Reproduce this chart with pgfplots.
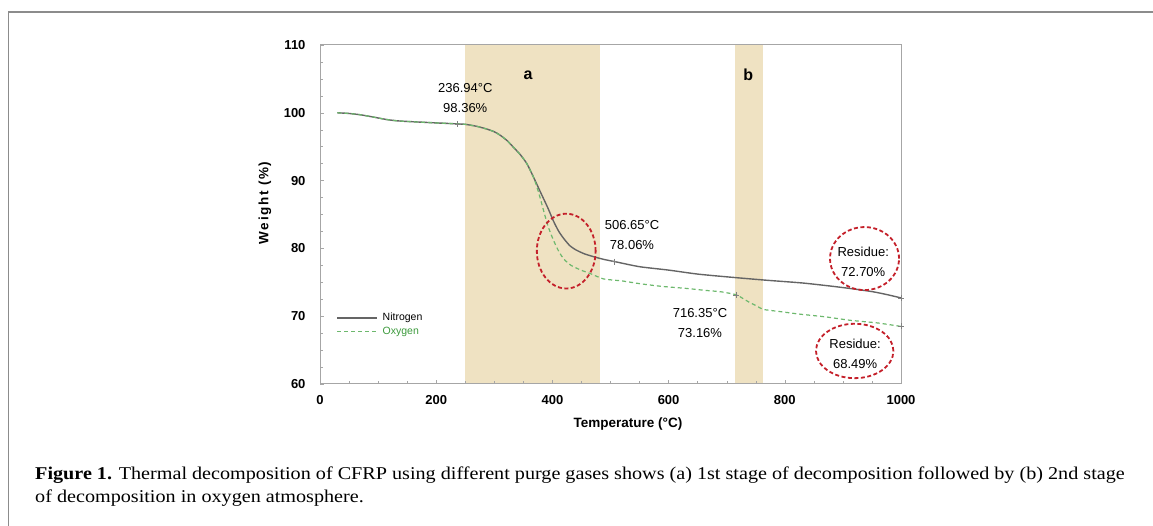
\documentclass[border=0pt]{standalone}
\usepackage{pgfplots}
\pgfplotsset{compat=1.18}
\usepackage{fontspec}
\setmainfont{Liberation Sans}
\newfontfamily\capfont[FakeStretch=1.12]{Liberation Serif}

\definecolor{band}{HTML}{EFE2C2}
\definecolor{nitro}{HTML}{656565}
\definecolor{oxy}{HTML}{6DB86D}
\definecolor{oxytext}{HTML}{3C9A3C}
\definecolor{circ}{HTML}{C4202A}
\definecolor{axgray}{HTML}{A6A6A6}
\definecolor{frame}{HTML}{8C8C8C}

\begin{document}
\begin{tikzpicture}
\useasboundingbox (0pt,0pt) rectangle (1153pt,526pt);
% outer frame of the figure
\draw[frame, line width=1.5pt] (8.5pt,0pt) -- (8.5pt,514pt) -- (1153pt,514pt);

\begin{axis}[
    at={(320pt,142pt)}, anchor=south west,
    scale only axis,
    width=581pt, height=339pt,
    xmin=0, xmax=1000, ymin=60, ymax=110,
    xtick={0,200,...,1000}, ytick={60,70,...,110},
    minor x tick num=3, minor y tick num=3,
    tick pos=left, tick align=inside,
    major tick length=4pt, minor tick length=3pt,
    every tick/.style={axgray},
    axis line style={axgray, line width=1pt},
    axis on top,
    clip=false,
    /pgf/number format/assume math mode=true,
    /pgf/number format/1000 sep={},
    ticklabel style={font=\bfseries\fontsize{13}{15}\selectfont},
    yticklabel style={xshift=-11pt},
    xticklabel style={yshift=-8pt},
    xlabel={Temperature (°C)},
    ylabel={\addfontfeature{LetterSpace=12}Weight (\%)},
    label style={font=\bfseries\fontsize{13.5}{15}\selectfont},
    xlabel style={at={(axis description cs:0.530,-0.1195)}, anchor=center},
    ylabel style={at={(axis description cs:-0.0947,0.534)}, anchor=center, rotate=0},
    legend cell align=left,
    legend image code/.code={\draw[#1] (0pt,0pt) -- (40pt,0pt);},
    legend style={draw=none, fill=none, font=\fontsize{10.5}{12}\selectfont,
        at={(axis description cs:0.026,0.218)}, anchor=north west,
        row sep=1pt, inner sep=1pt,
        nodes={inner xsep=5pt}},
]
% decomposition stages
\addplot[fill=band, draw=none, forget plot] coordinates {(250,60) (250,110) (482,110) (482,60)} -- cycle;
\addplot[fill=band, draw=none, forget plot] coordinates {(715,60) (715,110) (762,110) (762,60)} -- cycle;

\addplot[nitro, line width=1.4pt, smooth, tension=0.4] coordinates {
    (30,100.0) (50,99.9) (70,99.7) (90,99.4) (115,99.0) (135,98.8) (155,98.7)
    (190,98.55) (236.94,98.36) (250,98.3) (270,98.0) (287,97.6) (300,97.2)
    (310,96.7) (322,95.9) (332,95.0) (345,93.8) (356,92.5) (367,90.6)
    (380,88.2) (392,86.0) (402,84.0) (411,82.5) (420,81.4) (430,80.4)
    (440,79.8) (455,79.2) (474,78.7) (490,78.35) (506.65,78.06) (550,77.3)
    (600,76.8) (651,76.2) (714,75.7) (769,75.3) (830,74.9) (883,74.4)
    (920,74.0) (952,73.6) (975,73.2) (1000,72.70)
};
\addplot[oxy, line width=1.2pt, dash pattern=on 4pt off 3pt, smooth, tension=0.4] coordinates {
    (30,100.0) (50,99.9) (70,99.7) (90,99.4) (115,99.0) (135,98.8) (155,98.7)
    (190,98.55) (236.94,98.36) (250,98.3) (270,98.0) (287,97.6) (300,97.2)
    (310,96.7) (322,95.9) (332,95.0) (345,93.8) (356,92.5) (367,90.6)
    (375,88.6) (381,86.8) (386,85.2) (392,83.4) (398,82.0) (405,80.6)
    (412,79.4) (420,78.4) (432,77.5) (449,76.8) (465,76.3) (488,75.5)
    (520,75.2) (550,74.8) (588,74.4) (630,74.1) (664,73.8) (690,73.6)
    (716.35,73.16) (728,72.6) (740,72.0) (752,71.5) (763,71.0) (790,70.7)
    (826,70.3) (870,69.9) (912,69.4) (960,69.0) (1000,68.49)
};
\legend{Nitrogen,\textcolor{oxytext}{Oxygen}}

% onset / residue markers
\addplot[only marks, mark=+, mark size=3pt, gray, forget plot] coordinates {
    (236.94,98.36) (506.65,78.06) (1000,72.70) (716.35,73.16) (1000,68.49)
};

% stage labels
\node[font=\bfseries\fontsize{16}{18}\selectfont] at (axis cs:358,105.6) {a};
\node[font=\bfseries\fontsize{16}{18}\selectfont] at (axis cs:737,105.6) {b};

% annotations
\tikzset{ann/.style={align=center, inner sep=0pt, font=\fontsize{13}{20}\selectfont}}
\node[ann] at (axis cs:250,102.15) {236.94°C\\98.36\%};
\node[ann] at (axis cs:537,82.0) {506.65°C\\78.06\%};
\node[ann] at (axis cs:654,69.0) {716.35°C\\73.16\%};
\node[ann] at (axis cs:935,78.0) {Residue:\\72.70\%};
\node[ann] at (axis cs:921,64.5) {Residue:\\68.49\%};

\draw[circ, line width=1.8pt, dash pattern=on 4pt off 2.5pt]
    (axis cs:423.8,79.6) ellipse [x radius=29.4pt, y radius=37.4pt];
\draw[circ, line width=1.8pt, dash pattern=on 4pt off 2.5pt]
    (axis cs:937.2,78.5) ellipse [x radius=34.5pt, y radius=31.5pt];
\draw[circ, line width=1.8pt, dash pattern=on 4pt off 2.5pt]
    (axis cs:920.3,64.87) ellipse [x radius=38.7pt, y radius=27.2pt];
\end{axis}

% caption
\node[anchor=base west, inner sep=0pt] at (35pt,46pt) {\capfont\fontsize{18}{22}\selectfont
    \textbf{Figure 1.} Thermal decomposition of CFRP using different purge gases shows (a) 1st stage of decomposition followed by (b) 2nd stage};
\node[anchor=base west, inner sep=0pt] at (35pt,23pt) {\capfont\fontsize{18}{22}\selectfont
    of decomposition in oxygen atmosphere.};
\end{tikzpicture}
\end{document}
